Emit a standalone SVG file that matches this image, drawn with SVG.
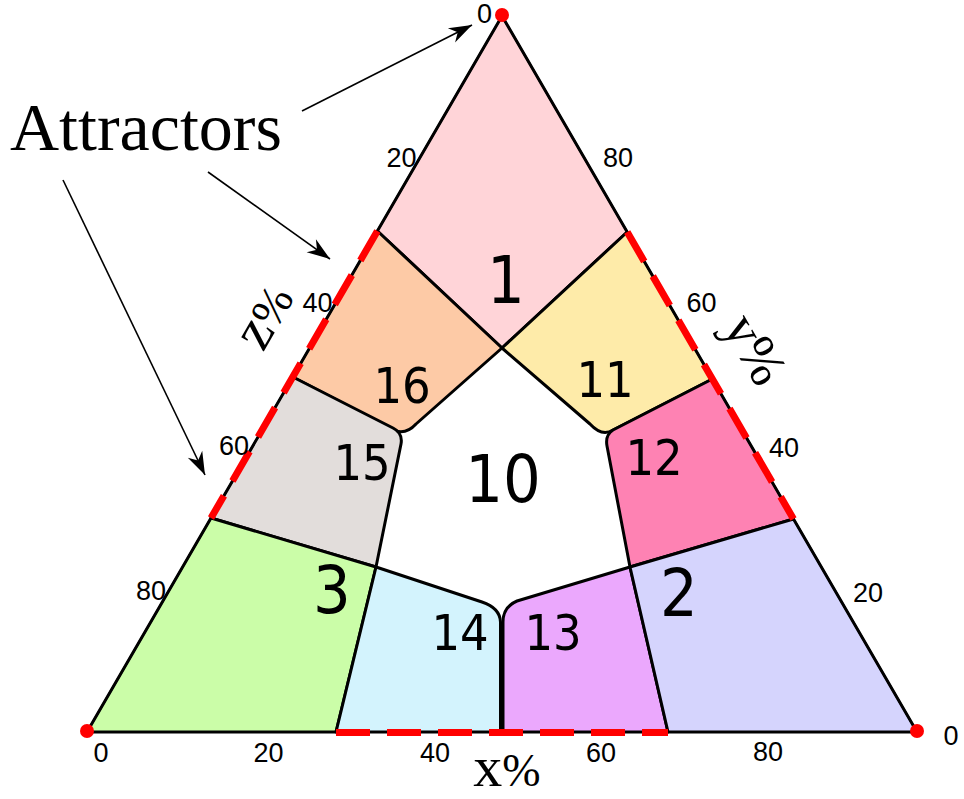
<svg xmlns="http://www.w3.org/2000/svg" width="964" height="799" viewBox="0 0 964 799">
<style>
.reg{stroke:#000;stroke-width:3;stroke-linejoin:round}
.big{font-family:"DejaVu Sans Condensed","DejaVu Sans",sans-serif;font-stretch:condensed;font-size:66px;text-anchor:middle;fill:#000}
.mid{font-family:"DejaVu Sans Condensed","DejaVu Sans",sans-serif;font-stretch:condensed;font-size:50px;text-anchor:middle;fill:#000}
.tick{font-family:"Liberation Sans",Arial,sans-serif;font-size:27px;text-anchor:middle;fill:#000}
.axis{font-family:"Liberation Serif","Times New Roman",serif;font-size:46px;text-anchor:middle;fill:#000}
.lg{font-size:58px}
.ttl{font-family:"Liberation Serif","Times New Roman",serif;font-size:68px;fill:#000}
.dash{fill:none;stroke:#f00;stroke-width:7;stroke-dasharray:34 17}
.arr{fill:none;stroke:#000;stroke-width:1.6;marker-end:url(#ah)}
</style>
<defs>
<marker id="ah" markerUnits="userSpaceOnUse" markerWidth="26" markerHeight="18" viewBox="-24 -9 26 18" refX="0" refY="0" orient="auto">
<path d="M0,0 L-23,-8 L-16,0 L-23,8 Z" fill="#000"/>
</marker>
</defs>
<g id="regions">
<g id="n1"><path class="reg" fill="#FFD4D8" d="M502,16 L627.2,232 L502,348 L377.4,231 Z"/><text class="big" x="506" y="303">1</text></g>
<g id="n16"><path class="reg" fill="#FDCAA6" d="M377.4,231 L502,348 L416,424 Q407,434 396,431 L292.8,377 Z"/><text class="mid" x="402" y="403">16</text></g>
<g id="n11"><path class="reg" fill="#FEEBA9" d="M627.2,232 L712.4,379 L613,430 Q602,437 590,424 L502,348 Z"/><text class="mid" x="605" y="397">11</text></g>
<g id="n15"><path class="reg" fill="#E2DDDB" d="M292.8,377 L393,428 Q403,433 401,444 L376,567 L211,518 Z"/><text class="mid" x="362" y="480">15</text></g>
<g id="n12"><path class="reg" fill="#FE82B3" d="M712.4,379 L793.5,519 L630,567 L607,446 Q605,435 613,430 Z"/><text class="mid" x="654" y="475">12</text></g>
<g id="n3"><path class="reg" fill="#CBFDA8" d="M211,518 L376,567 L336,732 L87,732 Z"/><text class="big" x="332" y="613">3</text></g>
<g id="n14"><path class="reg" fill="#D3F3FD" d="M376,567 L482,602 Q500,608 500.5,622 L500.5,732 L336,732 Z"/><text class="mid" x="460" y="650">14</text></g>
<g id="n13"><path class="reg" fill="#EBA8FD" d="M630,567 L668,732 L503,732 L503,622 Q503,607 517,601 Z"/><text class="mid" x="553" y="650">13</text></g>
<g id="n2"><path class="reg" fill="#D5D4FD" d="M793.5,519 L917,732 L668,732 L630,567 Z"/><text class="big" x="679" y="616">2</text></g>
<g id="n10"><text class="big" x="503" y="502">10</text></g>
</g>
<g id="frame">
<path d="M502,16 L917,732 L87,732 Z" fill="none" stroke="#000" stroke-width="2" stroke-linejoin="round"/>
<path d="M501.8,622 L501.8,732" fill="none" stroke="#000" stroke-width="4"/>
<path class="dash" d="M377.4,231 L211,518"/>
<path class="dash" d="M627.2,232 L793.5,519"/>
<path class="dash" d="M336,732.5 L668,732.5"/>
<circle cx="502" cy="15" r="7" fill="#f00"/>
<circle cx="87" cy="731" r="7" fill="#f00"/>
<circle cx="917" cy="731" r="7" fill="#f00"/>
</g>
<g id="ticks">
<text class="tick" x="484.5" y="23">0</text>
<text class="tick" x="401.5" y="167">20</text>
<text class="tick" x="618" y="167">80</text>
<text class="tick" x="317.5" y="312">40</text>
<text class="tick" x="701.5" y="312">60</text>
<text class="tick" x="234" y="455">60</text>
<text class="tick" x="784" y="457">40</text>
<text class="tick" x="151" y="600">80</text>
<text class="tick" x="868" y="602">20</text>
<text class="tick" x="101" y="762">0</text>
<text class="tick" x="268.5" y="762">20</text>
<text class="tick" x="435" y="762">40</text>
<text class="tick" x="601" y="762">60</text>
<text class="tick" x="768" y="761">80</text>
<text class="tick" x="951" y="745">0</text>
</g>
<g id="axes">
<text class="axis" x="507" y="786"><tspan class="lg">x</tspan>%</text>
<text class="axis" transform="translate(279,325) rotate(-60)"><tspan class="lg">z</tspan>%</text>
<text class="axis" style="font-size:54px" transform="translate(740,358) rotate(60)">y%</text>
</g>
<g id="attractors">
<text class="ttl" x="10" y="150">Attractors</text>
</g>
<g id="connectors">
<path class="arr" d="M302,111 L472,25"/>
<path class="arr" d="M208,172 L330,259"/>
<path class="arr" d="M63,180 L205,475"/>
</g>
</svg>
